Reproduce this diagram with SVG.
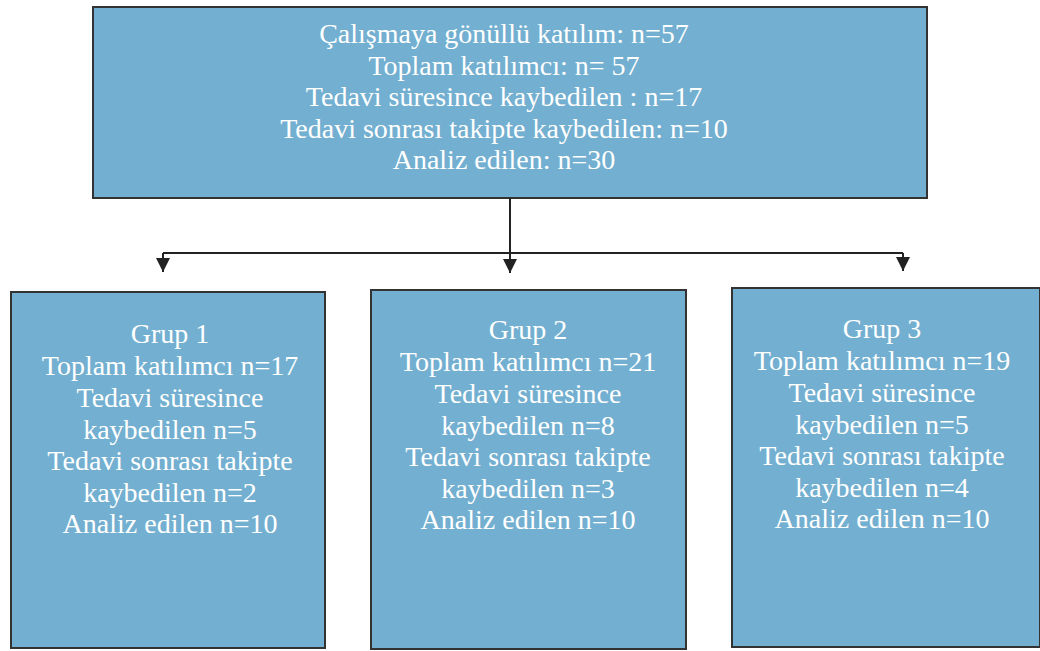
<svg xmlns="http://www.w3.org/2000/svg" width="1040" height="651" viewBox="0 0 1040 651">
<defs>
<style>
.box{fill:#73afd0;stroke:#333333;stroke-width:2}
.t{font-size:28px;fill:#ffffff;text-anchor:middle}
.c{fill:none;stroke:#222222;stroke-width:2}
</style>
<marker id="ah" viewBox="0 0 10 10" refX="10" refY="5" markerWidth="14" markerHeight="14" markerUnits="userSpaceOnUse" orient="auto">
<path d="M0,0 L10,5 L0,10 z" fill="#222222"/>
</marker>
</defs>
<g id="top" font-family="Liberation Serif, Times New Roman, serif">
<rect class="box" x="93" y="7" width="834" height="191"/>
<text class="t" x="504" y="43">Çalışmaya gönüllü katılım: n=57</text>
<text class="t" x="504" y="74.5">Toplam katılımcı: n= 57</text>
<text class="t" x="504" y="106">Tedavi süresince kaybedilen : n=17</text>
<text class="t" x="504" y="137.5">Tedavi sonrası takipte kaybedilen: n=10</text>
<text class="t" x="504" y="169">Analiz edilen: n=30</text>
</g>
<g id="connectors">
<path class="c" d="M510,198 V253 M163,253 H903"/>
<path class="c" d="M163,253 V272" marker-end="url(#ah)"/>
<path class="c" d="M510,253 V273" marker-end="url(#ah)"/>
<path class="c" d="M903,253 V271" marker-end="url(#ah)"/>
</g>
<g id="grup1" font-family="Liberation Serif, Times New Roman, serif">
<rect class="box" x="11" y="292" width="314" height="356"/>
<text class="t" x="170" y="343">Grup 1</text>
<text class="t" x="170" y="375">Toplam katılımcı n=17</text>
<text class="t" x="170" y="407">Tedavi süresince</text>
<text class="t" x="170" y="438.5">kaybedilen n=5</text>
<text class="t" x="170" y="470">Tedavi sonrası takipte</text>
<text class="t" x="170" y="501.5">kaybedilen n=2</text>
<text class="t" x="170" y="533">Analiz edilen n=10</text>
</g>
<g id="grup2" font-family="Liberation Serif, Times New Roman, serif">
<rect class="box" x="371" y="290" width="315" height="359"/>
<text class="t" x="528" y="339">Grup 2</text>
<text class="t" x="528" y="371">Toplam katılımcı n=21</text>
<text class="t" x="528" y="403">Tedavi süresince</text>
<text class="t" x="528" y="434.5">kaybedilen n=8</text>
<text class="t" x="528" y="466">Tedavi sonrası takipte</text>
<text class="t" x="528" y="497.5">kaybedilen n=3</text>
<text class="t" x="528" y="529">Analiz edilen n=10</text>
</g>
<g id="grup3" font-family="Liberation Serif, Times New Roman, serif">
<rect class="box" x="732" y="288" width="308" height="359"/>
<text class="t" x="882" y="338">Grup 3</text>
<text class="t" x="882" y="370">Toplam katılımcı n=19</text>
<text class="t" x="882" y="402">Tedavi süresince</text>
<text class="t" x="882" y="433.5">kaybedilen n=5</text>
<text class="t" x="882" y="465">Tedavi sonrası takipte</text>
<text class="t" x="882" y="496.5">kaybedilen n=4</text>
<text class="t" x="882" y="528">Analiz edilen n=10</text>
</g>
</svg>
